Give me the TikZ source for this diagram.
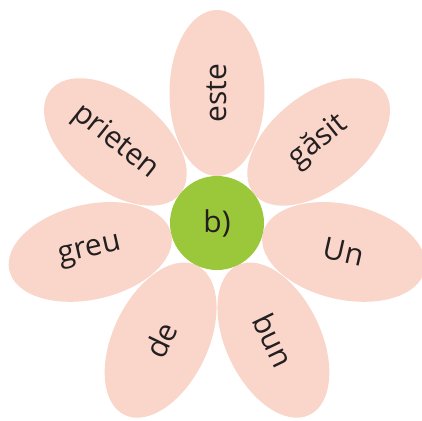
\documentclass[tikz,border=0pt]{standalone}
\usepackage{fontspec}
\setmainfont{Open Sans}
\usetikzlibrary{shapes.geometric}
\definecolor{petal}{HTML}{FAD5C9}
\definecolor{heart}{HTML}{9BC83B}
\definecolor{ink}{HTML}{231F20}

\begin{document}
\begin{tikzpicture}[x=1pt,y=1pt,every node/.style={font=\fontsize{30}{32}\selectfont,text=ink},
  pt/.style={ellipse,fill=petal,minimum width=166pt,minimum height=95pt,inner sep=0pt},
  hub/.style={circle,fill=heart,minimum size=94pt,inner sep=0pt}]
\useasboundingbox (-217,-197) rectangle (205,223);
\node[pt,rotate=90] (p1) at (90:130) {este};
\node[pt,rotate=38.57] (p2) at (38.57:130) {găsit};
\node[pt,rotate=-12.86] (p3) at (-12.86:130) {Un};
\node[pt,rotate=-64.29] (p4) at (-64.29:130) {bun};
\node[pt,rotate=64.29] (p5) at (-115.71:130) {de};
\node[pt,rotate=12.86] (p6) at (-167.14:130) {greu};
\node[pt,rotate=-38.57] (p7) at (141.43:130) {prieten};
\node[hub] (c) at (0,0) {b)};
\end{tikzpicture}
\end{document}
